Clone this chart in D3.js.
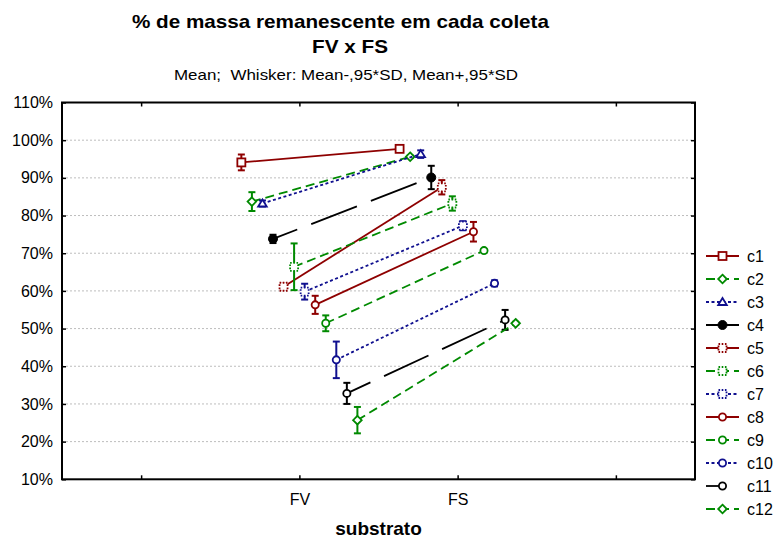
<!DOCTYPE html>
<html>
<head>
<meta charset="utf-8">
<script src="https://cdn.jsdelivr.net/npm/d3@7/dist/d3.min.js"></script>
<style>
  html, body { margin: 0; padding: 0; background: #fff; }
  svg { display: block; font-family: "Liberation Sans", Arial, sans-serif; }
  text { white-space: pre; }
</style>
</head>
<body>
<svg id="chart" width="776" height="540"></svg>
<script>
// Categories on the x axis (substrate) and collection series
const categories = ["FV", "FS"];
const seriesNames = ["c1", "c2", "c3", "c4", "c5", "c6", "c7", "c8", "c9", "c10", "c11", "c12"];

// Mean remaining mass (%) per series
const meanFV = [94.1, 83.7, 83.2, 73.8, 61.1, 66.4, 59.8, 56.3, 51.4, 41.7, 32.8, 25.7];
const meanFS = [97.7, 95.6, 96.3, 90.1, 87.5, 83.2, 77.3, 75.7, 70.7, 62.0, 52.3, 51.4];

// Whisker half-length (0.95 * SD), in percentage points
const whiskerFV = [2.1, 2.5, 0.8, 1.1, 0.8, 6.2, 2.1, 2.4, 2.1, 4.85, 2.8, 3.5];
const whiskerFS = [0.5, 0.3, 1.0, 3.1, 1.9, 1.9, 1.2, 2.6, 0.4, 0.8, 2.65, 0.4];

// Axis ticks
const yTicks = [10, 20, 30, 40, 50, 60, 70, 80, 90, 100, 110];
const xTickValues = [0.5, 1.5, 2.5, 3.5];
const xTickLabels = ["", "FV", "FS", ""];

// Line / marker styling per series
const RED = "#8e0000", GREEN = "#008a00", BLUE = "#10108f", BLACK = "#000";
const styles = {
  c1:  { color: RED,   dash: null,    offset: 0,  marker: "square" },
  c2:  { color: GREEN, dash: "9,5",   offset: 0,  marker: "diamond" },
  c3:  { color: BLUE,  dash: "3,2.5", offset: 0,  marker: "triangle" },
  c4:  { color: BLACK, dash: "49,15", offset: 23, marker: "filled" },
  c5:  { color: RED,   dash: null,    offset: 0,  marker: "dotsquare" },
  c6:  { color: GREEN, dash: "9,5",   offset: 0,  marker: "dotsquare" },
  c7:  { color: BLUE,  dash: "3,2.5", offset: 0,  marker: "dotsquare" },
  c8:  { color: RED,   dash: null,    offset: 0,  marker: "circle" },
  c9:  { color: GREEN, dash: "9,5",   offset: 0,  marker: "circle" },
  c10: { color: BLUE,  dash: "3,2.5", offset: 0,  marker: "circle" },
  c11: { color: BLACK, dash: "49,15", offset: 23, marker: "circle" },
  c12: { color: GREEN, dash: "9,5",   offset: 0,  marker: "diamond" }
};

const svg = d3.select("#chart");
const plot = { left: 62, right: 695, top: 102.5, bottom: 479.3 };

const x = d3.scaleLinear().domain([0, 4]).range([plot.left, plot.right]);
const y = d3.scaleLinear().domain([10, 110]).range([plot.bottom, plot.top]);

// Series are spread side by side around each category position
const spread = 0.8 / seriesNames.length;
const xPos = (catIndex, sIndex) =>
  x(catIndex + 1.5 + (sIndex - (seriesNames.length - 1) / 2) * spread);

// Titles
function title(text, xStart, baseline, size, weight, len) {
  svg.append("text")
    .attr("x", xStart).attr("y", baseline)
    .attr("font-size", size).attr("font-weight", weight)
    .attr("textLength", len).attr("lengthAdjust", "spacingAndGlyphs")
    .attr("xml:space", "preserve")
    .attr("fill", "#000")
    .text(text);
}
title("% de massa remanescente em cada coleta", 132, 28, 19, "bold", 417);
title("FV x FS", 312, 53, 19, "bold", 76);
title("Mean;  Whisker: Mean-,95*SD, Mean+,95*SD", 174, 80, 15, "normal", 344);

// Horizontal grid
svg.append("g").selectAll("line")
  .data(yTicks.filter(t => t > 10 && t < 110))
  .join("line")
  .attr("x1", plot.left).attr("x2", plot.right)
  .attr("y1", d => y(d)).attr("y2", d => y(d))
  .attr("stroke", "#bdbdbd").attr("stroke-width", 1)
  .attr("stroke-dasharray", "2,2");

// Axes (ticks point inward)
const axisStyle = g => {
  g.select(".domain").remove();
  g.selectAll(".tick line").attr("stroke", "#000").attr("stroke-width", 1.5);
  g.selectAll("text").attr("font-size", 16).attr("fill", "#000")
    .attr("font-family", "'Liberation Sans', Arial, sans-serif");
};

svg.append("g")
  .attr("transform", `translate(${plot.left},0)`)
  .call(d3.axisLeft(y).tickValues(yTicks).tickSize(-4).tickPadding(9)
    .tickFormat(d => d + "%"))
  .call(axisStyle);

svg.append("g")
  .attr("transform", `translate(${plot.right},0)`)
  .call(d3.axisRight(y).tickValues(yTicks).tickSize(-4).tickFormat(""))
  .call(axisStyle);

svg.append("g")
  .attr("transform", `translate(0,${plot.bottom})`)
  .call(d3.axisBottom(x).tickValues(xTickValues).tickSize(-4).tickPadding(14)
    .tickFormat((d, i) => xTickLabels[i]))
  .call(axisStyle);

svg.append("g")
  .attr("transform", `translate(0,${plot.top})`)
  .call(d3.axisTop(x).tickValues(xTickValues).tickSize(-4).tickFormat(""))
  .call(axisStyle);

// Frame
svg.append("rect")
  .attr("x", plot.left).attr("y", plot.top)
  .attr("width", plot.right - plot.left).attr("height", plot.bottom - plot.top)
  .attr("fill", "none").attr("stroke", "#000").attr("stroke-width", 2);

// Axis title
svg.append("text")
  .attr("x", (plot.left + plot.right) / 2).attr("y", 535)
  .attr("text-anchor", "middle").attr("font-size", 19).attr("font-weight", "bold")
  .text("substrato");

// Marker drawing
function drawMarker(g, kind, cx, cy, color) {
  const sw = 1.8;
  if (kind === "square" || kind === "dotsquare") {
    g.append("rect")
      .attr("x", cx - 4).attr("y", cy - 4).attr("width", 8).attr("height", 8)
      .attr("fill", "#fff").attr("stroke", color).attr("stroke-width", sw)
      .attr("stroke-dasharray", kind === "dotsquare" ? "1.6,1.6" : null);
  } else if (kind === "diamond") {
    g.append("path")
      .attr("d", `M${cx},${cy - 4.3}L${cx + 4.3},${cy}L${cx},${cy + 4.3}L${cx - 4.3},${cy}Z`)
      .attr("fill", "#fff").attr("stroke", color).attr("stroke-width", sw);
  } else if (kind === "triangle") {
    g.append("path")
      .attr("d", `M${cx},${cy - 4}L${cx + 4.3},${cy + 3}L${cx - 4.3},${cy + 3}Z`)
      .attr("fill", "#fff").attr("stroke", color).attr("stroke-width", sw);
  } else if (kind === "filled") {
    g.append("circle").attr("cx", cx).attr("cy", cy).attr("r", 4.5)
      .attr("fill", color).attr("stroke", color).attr("stroke-width", 1);
  } else {
    g.append("circle").attr("cx", cx).attr("cy", cy).attr("r", 3.6)
      .attr("fill", "#fff").attr("stroke", color).attr("stroke-width", sw);
  }
}

function drawWhisker(g, cx, mean, half, color) {
  const cap = 3.5;
  const yl = y(mean - half), yh = y(mean + half);
  g.append("line").attr("x1", cx).attr("x2", cx).attr("y1", yl).attr("y2", yh)
    .attr("stroke", color).attr("stroke-width", 2);
  [yl, yh].forEach(v => g.append("line")
    .attr("x1", cx - cap).attr("x2", cx + cap).attr("y1", v).attr("y2", v)
    .attr("stroke", color).attr("stroke-width", 2));
}

// Series
const seriesLayer = svg.append("g");
seriesNames.forEach((name, i) => {
  const st = styles[name];
  const g = seriesLayer.append("g");
  const means = [meanFV[i], meanFS[i]];
  const whiskers = [whiskerFV[i], whiskerFS[i]];
  const pts = categories.map((c, ci) => [xPos(ci, i), y(means[ci])]);

  g.append("path")
    .attr("d", d3.line()(pts))
    .attr("fill", "none").attr("stroke", st.color).attr("stroke-width", 1.8)
    .attr("stroke-dasharray", st.dash).attr("stroke-dashoffset", st.offset);

  categories.forEach((c, ci) => {
    drawWhisker(g, pts[ci][0], means[ci], whiskers[ci], st.color);
  });
  categories.forEach((c, ci) => {
    drawMarker(g, st.marker, pts[ci][0], pts[ci][1], st.color);
  });
});

// Legend
const legend = svg.append("g");
seriesNames.forEach((name, i) => {
  const st = styles[name];
  const ly = 256 + i * 23;
  const g = legend.append("g");
  const x0 = 706, x1 = name === "c11" ? 722 : 739;
  g.append("line").attr("x1", x0).attr("x2", x1).attr("y1", ly).attr("y2", ly)
    .attr("stroke", st.color).attr("stroke-width", 1.8)
    .attr("stroke-dasharray", st.dash && st.dash !== "49,15" ? st.dash : null);
  drawMarker(g, st.marker, 722.5, ly, st.color);
  g.append("text").attr("x", 747).attr("y", ly).attr("dy", "0.36em")
    .attr("font-size", 16).attr("fill", "#000").text(name);
});
</script>
</body>
</html>
